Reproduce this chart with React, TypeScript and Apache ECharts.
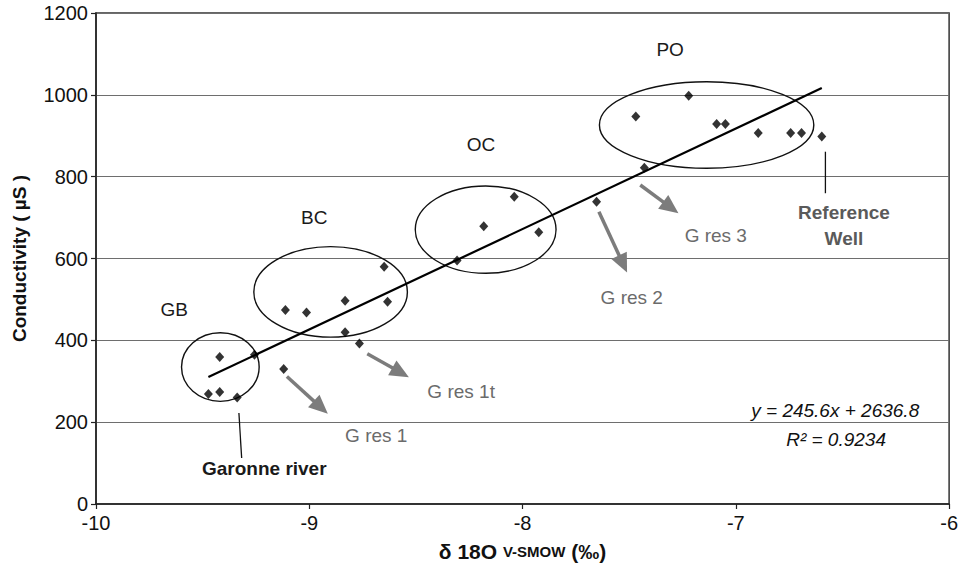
import React, { useEffect, useRef } from 'react';
import * as echarts from 'echarts';

// δ18O (‰ V-SMOW) and conductivity (µS) of each sample
const delta18O = [
  -9.473, -9.42, -9.42, -9.338, -9.257,
  -9.12,
  -9.112, -9.013, -8.832, -8.649, -8.633, -8.832, -8.765,
  -8.307, -8.182, -8.039, -7.924,
  -7.653, -7.429,
  -7.469, -7.221, -7.09, -7.049, -6.895, -6.743, -6.692,
  -6.597,
];
const conductivity = [
  269, 359, 274, 260, 365,
  330,
  474, 468, 497, 580, 494, 420, 392,
  595, 679, 751, 664,
  739, 822,
  947, 998, 929, 929, 907, 907, 907,
  898,
];

// linear fit printed on the chart
const slope = 245.6;
const intercept = 2636.8;
const r2 = 0.9234;

const xTicks = [-10, -9, -8, -7, -6];
const yTicks = [0, 200, 400, 600, 800, 1000, 1200];

// group ellipses: [centre x, centre y, radius x (‰), radius y (µS)]
const groupEllipses = [
  [-9.417, 334.6, 0.182, 83.8],
  [-8.9, 518.4, 0.36, 110.6],
  [-8.173, 670.6, 0.33, 106.7],
  [-7.137, 926.3, 0.5026, 105.7],
];

// arrows: [from x, from y, to x, to y]
const residueArrows = [
  [-9.105, 311.6, -8.913, 220.5],
  [-8.728, 367.0, -8.533, 310.0],
  [-7.642, 714.5, -7.51, 565.6],
  [-7.448, 779.7, -7.269, 710.6],
];

// leader lines: [x1, y1, x2, y2]
const leaderLines = [
  [-6.58, 861, -6.58, 759.5],
  [-9.33, 222.2, -9.317, 112.3],
];

// annotation labels
const groupNames = ['GB', 'BC', 'OC', 'PO'];
const groupNamePos = [
  [-9.633, 474.5],
  [-8.977, 700.9],
  [-8.195, 877.4],
  [-7.308, 1111],
];
const residueNames = ['G res 1', 'G res 1t', 'G res 2', 'G res 3'];
const residueNamePos = [
  [-8.686, 166.8],
  [-8.288, 275],
  [-7.488, 505.5],
  [-7.094, 655.9],
];
const siteNames = ['Reference\nWell', 'Garonne river'];
const siteNamePos = [
  [-6.493, 679.6],
  [-9.211, 87.9],
];
const equationTexts = [
  `y = ${slope}x + ${intercept}`,
  `R\u00B2 = ${r2}`,
];
const equationPos = [
  [-6.534, 227.8],
  [-6.53, 158.7],
];

const FONT = "Arial, 'Liberation Sans', Helvetica, sans-serif";

type Lbl = { text: string; pos: number[]; color: string; weight: string; style: string };

const allLabels: Lbl[] = [
  ...groupNames.map((t, i) => ({ text: t, pos: groupNamePos[i], color: '#1a1a1a', weight: 'normal', style: 'normal' })),
  ...residueNames.map((t, i) => ({ text: t, pos: residueNamePos[i], color: '#6b6b6b', weight: 'normal', style: 'normal' })),
  { text: siteNames[0], pos: siteNamePos[0], color: '#5a5a5a', weight: 'bold', style: 'normal' },
  { text: siteNames[1], pos: siteNamePos[1], color: '#1a1a1a', weight: 'bold', style: 'normal' },
  ...equationTexts.map((t, i) => ({ text: t, pos: equationPos[i], color: '#111', weight: 'normal', style: 'italic' })),
];

export default function App() {
  const ref = useRef<HTMLDivElement>(null);

  useEffect(() => {
    if (!ref.current) return;
    const chart = echarts.init(ref.current, undefined, { renderer: 'svg' });

    const points = delta18O.map((x, i) => [x, conductivity[i]]);
    const xMin = Math.min(...delta18O);
    const xMax = Math.max(...delta18O);
    const fitLine = [
      [xMin, slope * xMin + intercept],
      [xMax, slope * xMax + intercept],
    ];

    chart.setOption({
      animation: false,
      backgroundColor: '#ffffff',
      grid: {
        left: 96,
        top: 13,
        width: 856,
        height: 491,
        show: true,
        borderColor: '#333',
        borderWidth: 1.5,
        backgroundColor: 'transparent',
      },
      xAxis: {
        type: 'value',
        min: xTicks[0],
        max: xTicks[xTicks.length - 1],
        interval: 1,
        axisLine: { show: true, onZero: false, lineStyle: { color: '#222', width: 1.5 } },
        axisTick: { show: true, inside: false, length: 5, lineStyle: { color: '#222', width: 1.2 } },
        splitLine: { show: false },
        axisLabel: {
          color: '#111',
          fontSize: 20,
          fontFamily: FONT,
          margin: 9,
          formatter: (v: number) => String(v),
        },
        name: '{a|\u03B4 18O }{b|V-SMOW}{a| (\u2030)}',
        nameLocation: 'middle',
        nameGap: 37,
        nameTextStyle: {
          rich: {
            a: { fontSize: 21, fontWeight: 'bold', fontFamily: FONT, color: '#111' },
            b: { fontSize: 15, fontWeight: 'bold', fontFamily: FONT, color: '#111' },
          },
        },
      },
      yAxis: {
        type: 'value',
        min: yTicks[0],
        max: yTicks[yTicks.length - 1],
        interval: 200,
        axisLine: { show: true, onZero: false, lineStyle: { color: '#222', width: 1.5 } },
        axisTick: { show: true, inside: false, length: 5, lineStyle: { color: '#222', width: 1.2 } },
        splitLine: { show: true, lineStyle: { color: '#6e6e6e', width: 1.2 } },
        axisLabel: {
          color: '#111',
          fontSize: 20,
          fontFamily: FONT,
          margin: 8,
          formatter: (v: number) => String(v),
        },
        name: 'Conductivity ( \u00B5S )',
        nameLocation: 'middle',
        nameRotate: 90,
        nameGap: 67,
        nameTextStyle: { fontSize: 19, fontWeight: 'bold', fontFamily: FONT, color: '#111' },
      },
      series: [
        {
          type: 'custom',
          name: 'groups',
          coordinateSystem: 'cartesian2d',
          silent: true,
          z: 3,
          encode: { x: 0, y: 1 },
          data: groupEllipses,
          renderItem: (params: any, api: any) => {
            const c = api.coord([api.value(0), api.value(1)]);
            const s = api.size([api.value(2), api.value(3)]);
            return {
              type: 'ellipse',
              shape: { cx: c[0], cy: c[1], rx: s[0], ry: s[1] },
              style: { fill: 'none', stroke: '#111', lineWidth: 1.4 },
            };
          },
        },
        {
          type: 'custom',
          name: 'leaders',
          coordinateSystem: 'cartesian2d',
          silent: true,
          z: 3,
          encode: { x: [0, 2], y: [1, 3] },
          data: leaderLines,
          renderItem: (params: any, api: any) => {
            const a = api.coord([api.value(0), api.value(1)]);
            const b = api.coord([api.value(2), api.value(3)]);
            return {
              type: 'line',
              shape: { x1: a[0], y1: a[1], x2: b[0], y2: b[1] },
              style: { stroke: '#111', lineWidth: 1.3 },
            };
          },
        },
        {
          type: 'custom',
          name: 'arrows',
          coordinateSystem: 'cartesian2d',
          silent: true,
          z: 3,
          encode: { x: [0, 2], y: [1, 3] },
          data: residueArrows,
          renderItem: (params: any, api: any) => {
            const p1 = api.coord([api.value(0), api.value(1)]);
            const p2 = api.coord([api.value(2), api.value(3)]);
            const dx = p2[0] - p1[0];
            const dy = p2[1] - p1[1];
            const len = Math.hypot(dx, dy) || 1;
            const ux = dx / len;
            const uy = dy / len;
            const hl = 19;
            const hw = 8.5;
            const bx = p2[0] - ux * hl;
            const by = p2[1] - uy * hl;
            return {
              type: 'group',
              children: [
                {
                  type: 'line',
                  shape: { x1: p1[0], y1: p1[1], x2: bx + ux * 2, y2: by + uy * 2 },
                  style: { stroke: '#7c7c7c', lineWidth: 3.5 },
                },
                {
                  type: 'polygon',
                  shape: {
                    points: [
                      [p2[0], p2[1]],
                      [bx - uy * hw, by + ux * hw],
                      [bx + uy * hw, by - ux * hw],
                    ],
                  },
                  style: { fill: '#7c7c7c' },
                },
              ],
            };
          },
        },
        {
          type: 'line',
          name: 'fit',
          data: fitLine,
          showSymbol: false,
          symbol: 'none',
          z: 4,
          lineStyle: { color: '#000', width: 2.2 },
          silent: true,
        },
        {
          type: 'scatter',
          name: 'samples',
          data: points,
          symbol: 'diamond',
          symbolSize: [9, 10],
          z: 5,
          itemStyle: { color: '#000' },
        },
        {
          type: 'custom',
          name: 'labels',
          coordinateSystem: 'cartesian2d',
          silent: true,
          z: 6,
          encode: { x: 0, y: 1 },
          data: allLabels.map((l) => l.pos),
          renderItem: (params: any, api: any) => {
            const l = allLabels[params.dataIndex];
            const c = api.coord([api.value(0), api.value(1)]);
            return {
              type: 'text',
              x: c[0],
              y: c[1],
              style: {
                text: l.text,
                fill: l.color,
                fontSize: 19,
                fontFamily: FONT,
                fontWeight: l.weight,
                fontStyle: l.style,
                align: 'center',
                verticalAlign: 'middle',
                lineHeight: 26,
              },
            };
          },
        },
      ],
    });

    return () => {
      chart.dispose();
    };
  }, []);

  return (
    <div
      ref={ref}
      style={{ position: 'fixed', left: 0, top: 0, width: 961, height: 568, background: '#fff' }}
    />
  );
}
